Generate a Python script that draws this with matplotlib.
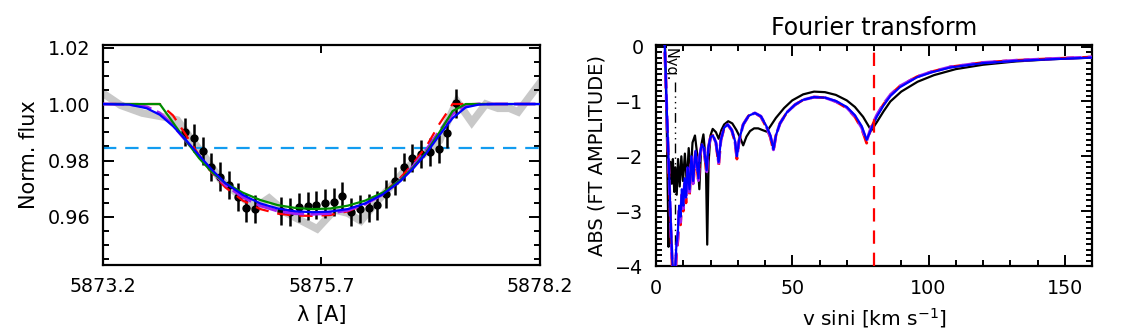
import matplotlib
matplotlib.use("Agg")
import matplotlib.pyplot as plt
from matplotlib.ticker import MultipleLocator, FixedLocator

# ---------------- Left panel data ----------------
obs_wave = [5873.20, 5873.40, 5873.65, 5873.90, 5874.05, 5874.20, 5874.35, 5874.55, 5874.75,
            5874.90, 5875.00, 5875.10, 5875.30, 5875.50, 5875.65, 5875.85, 5876.00, 5876.15,
            5876.35, 5876.50, 5876.70, 5876.90, 5877.05, 5877.15, 5877.25, 5877.42, 5877.58,
            5877.72, 5877.85, 5877.95, 5878.20]
obs_flux = [1.0038, 0.9996, 0.9968, 0.9954, 0.9943, 0.9880, 0.9820, 0.9730, 0.9680,
            0.9642, 0.9646, 0.9667, 0.9614, 0.9582, 0.9558, 0.9625, 0.9614, 0.9586,
            0.9660, 0.9710, 0.9780, 0.9830, 0.9870, 0.9943, 1.0010, 0.9935, 1.0000,
            0.9985, 0.9985, 0.9972, 1.0075]

pts_wave = [5874.14, 5874.24, 5874.34, 5874.44, 5874.54, 5874.64, 5874.74, 5874.84, 5874.94,
            5875.24, 5875.34, 5875.44, 5875.54, 5875.64, 5875.74, 5875.84, 5875.94, 5876.04,
            5876.14, 5876.24, 5876.34, 5876.44, 5876.54, 5876.64, 5876.74, 5876.84, 5876.94,
            5877.04, 5877.14, 5877.24]
pts_flux = [0.9902, 0.9881, 0.9834, 0.9778, 0.9743, 0.9713, 0.9670, 0.9633, 0.9628,
            0.9621, 0.9619, 0.9634, 0.9639, 0.9642, 0.9648, 0.9654, 0.9675, 0.9619,
            0.9627, 0.9633, 0.9641, 0.9681, 0.9728, 0.9776, 0.9808, 0.9823, 0.9831,
            0.9841, 0.9896, 1.0002]
pts_err = [0.005] * 30

mod_wave = [5873.20, 5873.50, 5873.70, 5873.85, 5874.00, 5874.15, 5874.30, 5874.45, 5874.60,
            5874.80, 5875.00, 5875.20, 5875.40, 5875.60, 5875.80, 5876.00, 5876.20, 5876.40,
            5876.60, 5876.75, 5876.90, 5877.05, 5877.20, 5877.35, 5877.50, 5877.70, 5878.20]
green_flux = [1.0000, 1.0000, 1.0000, 1.0000, 0.9935, 0.9870, 0.9808, 0.9758, 0.9720,
              0.9686, 0.9660, 0.9642, 0.9632, 0.9628, 0.9630, 0.9640, 0.9658, 0.9686,
              0.9730, 0.9776, 0.9830, 0.9900, 0.9975, 1.0000, 1.0000, 1.0000, 1.0000]
blue_flux = [1.0000, 0.9998, 0.9985, 0.9962, 0.9922, 0.9872, 0.9818, 0.9766, 0.9720,
             0.9678, 0.9648, 0.9630, 0.9620, 0.9617, 0.9619, 0.9628, 0.9648, 0.9680,
             0.9726, 0.9772, 0.9826, 0.9890, 0.9950, 0.9988, 0.9998, 1.0000, 1.0000]
purple_flux = [1.0000, 0.9999, 0.9990, 0.9968, 0.9925, 0.9870, 0.9814, 0.9760, 0.9714,
               0.9670, 0.9640, 0.9621, 0.9612, 0.9610, 0.9613, 0.9624, 0.9646, 0.9680,
               0.9730, 0.9780, 0.9838, 0.9905, 0.9965, 0.9995, 1.0000, 1.0000, 1.0000]
red_flux = [1.0000, 1.0000, 1.0000, 1.0000, 0.9960, 0.9890, 0.9818, 0.9755, 0.9705,
            0.9658, 0.9628, 0.9612, 0.9605, 0.9604, 0.9607, 0.9620, 0.9645, 0.9683,
            0.9738, 0.9790, 0.9850, 0.9930, 1.0000, 1.0000, 1.0000, 1.0000, 1.0000]
threshold = 0.9843

# ---------------- Right panel data ----------------
ft_blue_v = [3.0, 3.5, 4.0, 4.5, 5.0, 5.5, 6.0, 6.5, 7.0, 7.5, 8.0, 8.5, 9.0, 9.5, 10.0,
             10.5, 11.0, 11.6, 12.3, 13.0, 13.6, 14.5, 15.6, 16.0, 16.8, 17.6, 18.6, 19.2,
             20.0, 20.9, 22.0, 23.0, 23.8, 25.0, 26.3, 27.8, 29.0, 29.7, 30.5, 32.0, 34.0,
             36.3, 38.5, 40.5, 42.0, 43.1, 44.0, 45.5, 48.0, 51.0, 54.0, 58.0, 62.0, 66.0,
             70.0, 73.0, 75.5, 77.3, 79.0, 81.0, 83.4, 86.0, 89.5, 95.7, 101.0, 108.0, 120.0,
             132.0, 145.0, 160.0]
ft_blue = [0.30, -0.40, -1.20, -1.90, -2.60, -3.30, -3.90, -4.30, -4.10, -3.60, -3.40, -2.90,
           -3.10, -2.60, -2.90, -2.40, -2.75, -2.20, -2.60, -2.00, -2.45, -1.90, -2.40, -2.00,
           -1.78, -1.85, -2.25, -1.85, -1.65, -1.62, -1.75, -2.10, -1.70, -1.48, -1.42, -1.52,
           -1.72, -2.00, -1.70, -1.42, -1.26, -1.21, -1.27, -1.45, -1.62, -1.87, -1.62, -1.40,
           -1.20, -1.06, -0.97, -0.92, -0.93, -0.99, -1.10, -1.25, -1.45, -1.70, -1.50, -1.28,
           -1.08, -0.90, -0.74, -0.56, -0.47, -0.38, -0.30, -0.26, -0.23, -0.20]
ft_red = [0.30, -0.45, -1.30, -2.00, -2.70, -3.45, -4.10, -4.50, -4.30, -3.80, -3.55, -3.00,
          -3.25, -2.70, -3.00, -2.50, -2.85, -2.25, -2.70, -2.05, -2.55, -1.92, -2.48, -2.02,
          -1.79, -1.87, -2.32, -1.86, -1.65, -1.62, -1.76, -2.16, -1.71, -1.48, -1.42, -1.53,
          -1.74, -2.05, -1.71, -1.42, -1.26, -1.21, -1.28, -1.47, -1.66, -1.90, -1.62, -1.40,
          -1.20, -1.06, -0.97, -0.92, -0.93, -1.00, -1.12, -1.28, -1.50, -1.76, -1.48, -1.26,
          -1.06, -0.88, -0.72, -0.55, -0.46, -0.37, -0.29, -0.25, -0.22, -0.19]
ft_purple = [0.30, -0.42, -1.25, -1.95, -2.65, -3.40, -4.00, -4.40, -4.20, -3.70, -3.50, -2.95,
             -3.20, -2.65, -2.95, -2.45, -2.80, -2.22, -2.65, -2.02, -2.50, -1.91, -2.44, -2.01,
             -1.78, -1.86, -2.28, -1.85, -1.65, -1.62, -1.75, -2.12, -1.70, -1.48, -1.42, -1.52,
             -1.73, -2.02, -1.71, -1.42, -1.26, -1.21, -1.27, -1.46, -1.64, -1.88, -1.62, -1.40,
             -1.20, -1.06, -0.97, -0.92, -0.93, -1.00, -1.11, -1.27, -1.48, -1.72, -1.46, -1.25,
             -1.05, -0.88, -0.72, -0.55, -0.46, -0.37, -0.29, -0.25, -0.22, -0.19]

ft_black_v = [3.2, 3.6, 4.0, 4.3, 4.6, 4.9, 5.3, 5.8, 6.2, 6.7, 7.1, 7.6, 8.1, 8.7, 9.3,
              9.9, 10.6, 11.3, 12.0, 12.7, 13.4, 14.3, 15.2, 15.9, 16.6, 17.4, 18.3, 18.8,
              19.3, 20.0, 20.8, 22.0, 23.0, 24.0, 25.0, 26.5, 28.0, 29.5, 30.8, 32.0, 33.2,
              34.5, 36.0, 37.5, 39.0, 40.6, 42.0, 44.0, 47.0, 50.0, 54.0, 58.0, 62.0, 66.0,
              70.0, 73.0, 76.0, 79.0, 81.0, 83.5, 86.0, 90.0, 96.0, 102.0, 110.0, 120.0,
              132.0, 145.0, 160.0]
ft_black = [0.30, -0.60, -1.60, -2.60, -3.65, -2.60, -2.10, -2.50, -2.05, -2.65, -2.20, -2.70,
            -2.05, -2.55, -2.00, -2.45, -1.95, -2.50, -1.85, -2.35, -1.75, -1.62, -2.00, -2.60,
            -1.80, -1.60, -2.10, -3.61, -2.10, -1.62, -1.50, -1.56, -1.68, -1.52, -1.42, -1.36,
            -1.40, -1.52, -1.65, -1.80, -1.64, -1.54, -1.49, -1.49, -1.52, -1.55, -1.45, -1.30,
            -1.12, -0.98, -0.87, -0.82, -0.83, -0.88, -0.98, -1.10, -1.28, -1.53, -1.38, -1.18,
            -1.00, -0.82, -0.64, -0.52, -0.41, -0.33, -0.27, -0.23, -0.20]

vsini_mark = 80.0
nyquist = 7.0

# ---------------- Figure ----------------
plt.rcParams['font.family'] = ['DejaVu Sans']
fs_tick = 13.8
fs_lab = 14.5
fig = plt.figure(figsize=(11.37, 3.33), dpi=100)
ax1 = fig.add_axes([103/1137, 1-265/333, 437/1137, 220/333])
ax2 = fig.add_axes([656/1137, 1-266/333, 436/1137, 221/333])

# Left panel
ax1.plot(obs_wave, obs_flux, color='#c8c8c8', lw=5.5, solid_joinstyle='miter', zorder=1)
ax1.axhline(threshold, color='#129cf0', lw=1.6, ls=(0, (6, 4)), zorder=2)
ax1.errorbar(pts_wave, pts_flux, yerr=pts_err, fmt='o', color='black', ms=5, elinewidth=1.8,
             capsize=0, zorder=3)
ax1.plot(mod_wave, red_flux, color='red', lw=1.6, ls=(0, (6, 4)), zorder=4)
ax1.plot(mod_wave, purple_flux, color='#a020f0', lw=2.2, ls=(0, (7, 2)), zorder=5)
ax1.plot(mod_wave, green_flux, color='#008c00', lw=1.6, zorder=6)
ax1.plot(mod_wave, blue_flux, color='#0000ff', lw=1.6, zorder=7)
ax1.set_xlim(5873.2, 5878.2)
ax1.set_ylim(0.943, 1.0209)
ax1.xaxis.set_major_locator(FixedLocator([5873.2, 5875.7, 5878.2]))
ax1.set_xticklabels(['5873.2', '5875.7', '5878.2'])
ax1.yaxis.set_major_locator(FixedLocator([0.96, 0.98, 1.00, 1.02]))
ax1.yaxis.set_minor_locator(MultipleLocator(0.005))
ax1.set_yticklabels(['0.96', '0.98', '1.00', '1.02'])
ax1.set_xlabel('λ [A]', fontsize=fs_lab + 0.5, labelpad=6)
ax1.set_ylabel('Norm. flux', fontsize=fs_lab + 0.5, labelpad=6)

# Right panel
ax2.plot(ft_black_v, ft_black, color='black', lw=1.6, zorder=3)
ax2.plot(ft_blue_v, ft_red, color='red', lw=2.0, ls=(0, (5, 3)), zorder=4)
ax2.plot(ft_blue_v, ft_purple, color='#a020f0', lw=2.2, ls=(0, (5, 2)), zorder=5)
ax2.plot(ft_blue_v, ft_blue, color='#0000ff', lw=1.6, zorder=6)
ax2.axvline(vsini_mark, color='red', lw=1.6, ls=(0, (6, 4)), zorder=7)
ax2.plot([nyquist, nyquist], [-0.65, -4.1], color='black', lw=1.0,
         ls=(0, (7, 3, 1, 3, 1, 3, 1, 3)), zorder=2)
ax2.text(nyquist - 2.0, -0.03, 'Nyq.', rotation=-90, ha='center', va='top', fontsize=10.5)
ax2.set_xlim(0, 160)
ax2.set_ylim(-4.0, 0.03)
ax2.xaxis.set_major_locator(FixedLocator([0, 50, 100, 150]))
ax2.xaxis.set_minor_locator(MultipleLocator(10))
ax2.yaxis.set_major_locator(FixedLocator([-4, -3, -2, -1, 0]))
ax2.yaxis.set_minor_locator(MultipleLocator(0.1))
ax2.set_yticklabels(['−4', '−3', '−2', '−1', '0'])
ax2.set_xlabel('v sini [km s$^{-1}$]', fontsize=fs_lab, labelpad=6)
ax2.set_ylabel('ABS (FT AMPLITUDE)', fontsize=14, labelpad=6)
ax2.set_title('Fourier transform', fontsize=17, pad=7)

for ax in (ax1, ax2):
    for sp in ax.spines.values():
        sp.set_linewidth(1.6)
    ax.tick_params(which='both', direction='in', top=True, right=True, labelsize=fs_tick, width=1.4)
    ax.tick_params(which='major', length=8, pad=9)
    ax.tick_params(which='minor', length=4)
ax1.tick_params(axis='x', which='major', length=6)

fig.savefig('out.png', dpi=100)
